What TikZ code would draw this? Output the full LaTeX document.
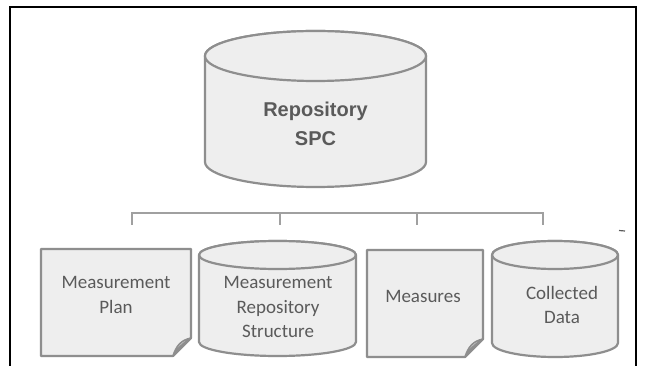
\documentclass[tikz,border=0pt]{standalone}
\usepackage{fontspec}
\newfontfamily\arialfont{Liberation Sans}
\newfontfamily\califont{Carlito}
\begin{document}
\begin{tikzpicture}[x=1pt,y=1pt,
  shapeline/.style={draw=shapegray, line width=2.2pt, fill=shapefill, line join=round},
  toptext/.style={text=textgray, align=center, font=\arialfont\bfseries\fontsize{20}{29}\selectfont},
  bottext/.style={text=textgray, align=center, font=\califont\fontsize{19}{24.5}\selectfont},
  barline/.style={draw=bargray, line width=2pt}]
\definecolor{shapegray}{HTML}{8E8E8E}
\definecolor{shapefill}{HTML}{EEEEEE}
\definecolor{textgray}{HTML}{5A5A5A}
\definecolor{bargray}{HTML}{A0A0A0}
\definecolor{foldgray}{HTML}{C8C8C8}
\useasboundingbox (0,0) rectangle (645,-366);
\fill[white] (0,0) rectangle (645,-366);
% frame
\draw[black, line width=2.4pt] (10,-370) -- (10,-7) -- (636,-7) -- (636,-370);

% top cylinder: x 205..426, top -31, bottom -187, ry 25
\path[shapeline] (205,-56) -- (205,-162) arc[start angle=180, end angle=360, x radius=110.5, y radius=25] -- (426,-56) arc[start angle=0, end angle=180, x radius=110.5, y radius=25] -- cycle;
\draw[shapeline] (315.5,-56) ellipse[x radius=110.5, y radius=25];
\node[toptext] (repo) at (315.5,-124) {Repository\\SPC};

% bar and verticals
\coordinate (b1) at (132,-213);
\coordinate (b2) at (280,-213);
\coordinate (b3) at (417,-213);
\coordinate (b4) at (543,-213);
\coordinate (e1) at (132,-225);
\coordinate (e2) at (280,-225);
\coordinate (e3) at (417,-225);
\coordinate (e4) at (543,-225);
\draw[barline] (e1) -- (b1) -- (b4) -- (e4);
\draw[barline] (b2) -- (e2);
\draw[barline] (b3) -- (e3);

% Measurement Plan document: x 41..191, y -249..-356, fold 18
\path[shapeline] (41,-249) -- (191,-249) -- (191,-338) -- (173,-356) -- (41,-356) -- cycle;
\path[draw=shapegray, line width=1.5pt, fill=foldgray, line join=round] (173,-356) .. controls (176,-346) and (181,-340) .. (191,-338) .. controls (184,-343) and (178,-347) .. cycle;
\node[bottext] (plan) at (116,-295) {Measurement\\Plan};

% Measurement Repository Structure cylinder: x 199..356, top -241, bottom -356, ry 14
\path[shapeline] (199,-255) -- (199,-342) arc[start angle=180, end angle=360, x radius=78.5, y radius=14] -- (356,-255) arc[start angle=0, end angle=180, x radius=78.5, y radius=14] -- cycle;
\draw[shapeline] (277.5,-255) ellipse[x radius=78.5, y radius=14];
\node[bottext] (mrs) at (278,-307) {Measurement\\Repository\\Structure};

% Measures document: x 367..483, y -250..-357
\path[shapeline] (367,-250) -- (483,-250) -- (483,-339) -- (465,-357) -- (367,-357) -- cycle;
\path[draw=shapegray, line width=1.5pt, fill=foldgray, line join=round] (465,-357) .. controls (468,-347) and (473,-341) .. (483,-339) .. controls (476,-344) and (470,-348) .. cycle;
\node[bottext] (meas) at (423,-296) {Measures};

% Collected Data cylinder: x 492..618, top -241, bottom -357, ry 14
\path[shapeline] (492,-255) -- (492,-343) arc[start angle=180, end angle=360, x radius=63, y radius=14] -- (618,-255) arc[start angle=0, end angle=180, x radius=63, y radius=14] -- cycle;
\draw[shapeline] (555,-255) ellipse[x radius=63, y radius=14];
\node[bottext] (coll) at (562,-305) {Collected\\Data};

% small mark
\draw[textgray, line width=1.2pt] (619,-230.5) -- (625,-231);
\end{tikzpicture}
\end{document}
